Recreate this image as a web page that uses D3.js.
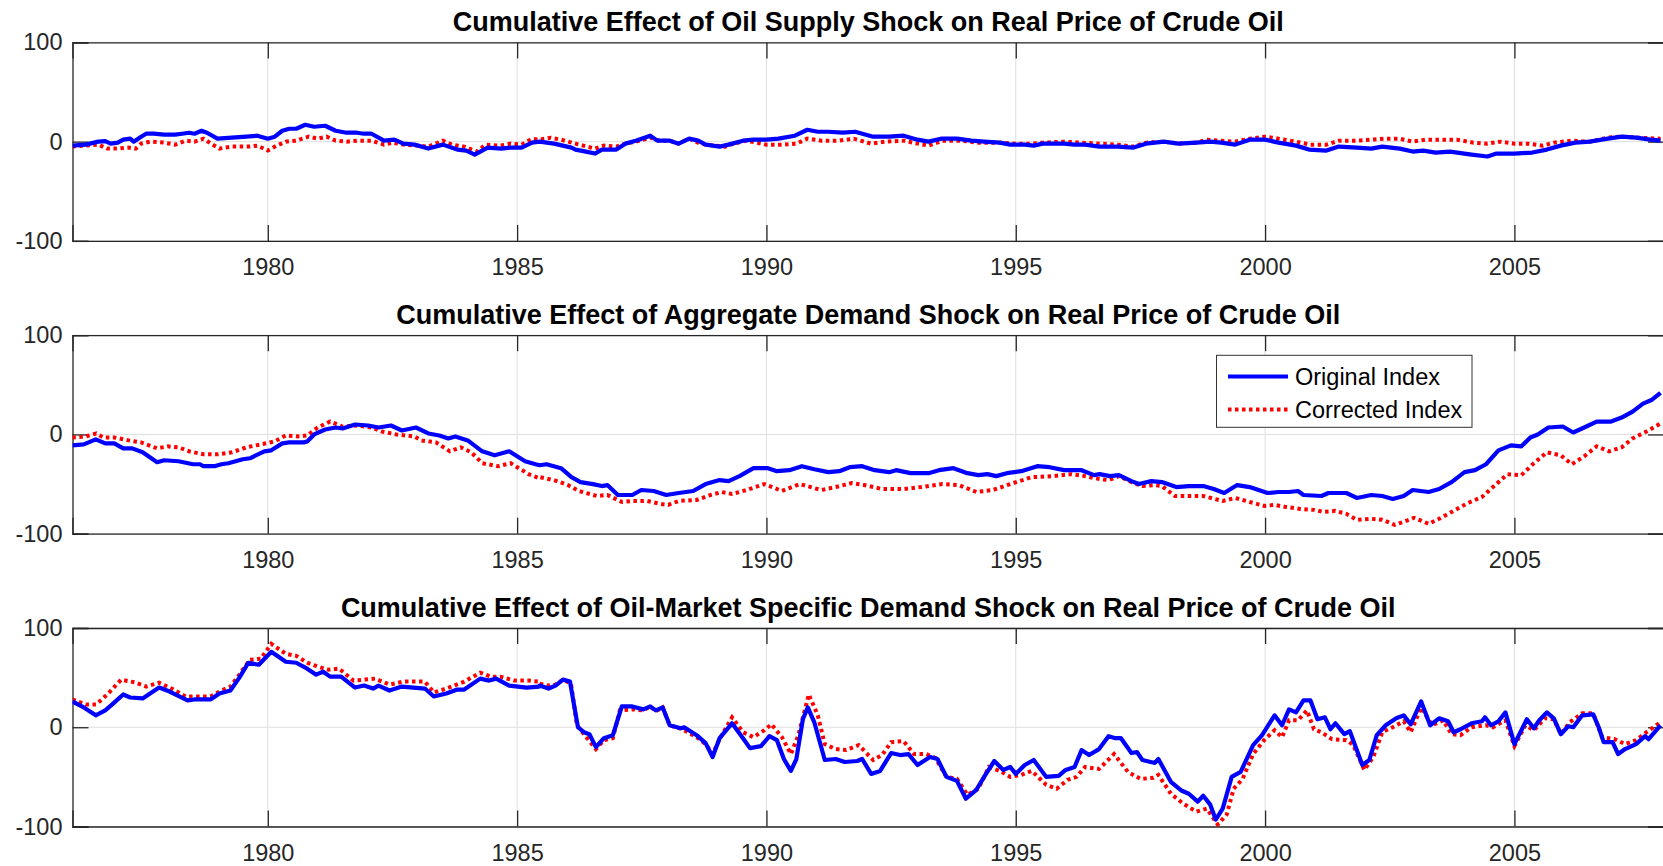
<!DOCTYPE html>
<html lang="en">
<head>
<meta charset="UTF-8">
<title>Cumulative Effects on Real Price of Crude Oil</title>
<script src="https://d3js.org/d3.v7.min.js"></script>
<style>
  body {
    margin: 0;
    background-color: #ffffff;
  }
  svg {
    display: block;
    font-family: "Liberation Sans", Arial, Helvetica, sans-serif;
  }
  .tick text {
    fill: #262626;
    font-size: 23.5px;
  }
  .title {
    font-size: 27px;
    font-weight: bold;
    fill: #000;
  }
  .legend text {
    font-size: 23.5px;
    fill: #000;
  }
</style>
</head>
<body>
<svg id="chart" width="1663" height="866"></svg>
<script>
// values: [decimal year, cumulative effect]

const supplyOriginal = [[1976.08,-4],[1976.35,-3],[1976.60,0],[1976.74,0.5],[1976.85,-2],[1976.99,-1],[1977.10,2],[1977.24,3],[1977.31,0],[1977.46,5],[1977.56,8],[1977.71,8],[1977.92,7],[1978.14,7],[1978.28,8],[1978.42,9],[1978.53,8],[1978.67,11],[1978.78,9],[1978.99,3],[1979.28,4],[1979.57,5],[1979.79,6],[1980.00,3],[1980.14,5],[1980.29,11],[1980.43,13],[1980.57,13],[1980.75,17],[1980.93,15],[1981.15,16],[1981.36,11],[1981.58,9],[1981.79,9],[1981.93,8],[1982.08,8],[1982.33,1],[1982.54,2],[1982.72,-2],[1982.94,-3],[1983.22,-7],[1983.51,-3],[1983.80,-8],[1983.98,-9],[1984.15,-13],[1984.41,-6],[1984.69,-7],[1984.87,-6],[1985.09,-6],[1985.30,-1],
  [1985.45,0],[1985.74,-2],[1986.09,-6],[1986.17,-8],[1986.38,-10],[1986.56,-12],[1986.70,-8],[1986.99,-8],[1987.17,-2],[1987.38,1],[1987.67,6],[1987.81,1],[1988.06,1],[1988.24,-2],[1988.45,3],[1988.63,1],[1988.78,-3],[1989.06,-5],[1989.24,-3],[1989.53,1],[1989.74,2],[1990.00,2],[1990.24,3],[1990.57,6],[1990.82,12],[1991.03,10],[1991.24,10],[1991.53,9],[1991.78,10],[1992.14,5],[1992.46,5],[1992.75,6],[1993.03,2],[1993.25,0],[1993.50,3],[1993.82,3],[1994.11,1],[1994.36,0],[1994.68,-1],[1994.89,-3],[1995.18,-3],[1995.36,-4],[1995.54,-2],[1995.97,-2],[1996.18,-3],[1996.39,-3],
  [1996.68,-5],[1997.04,-5],[1997.36,-6],[1997.61,-2],[1997.97,0],[1998.26,-2],[1998.62,-1],[1998.90,0],[1999.12,-1],[1999.40,-3],[1999.69,2],[2000.00,2],[2000.27,-1],[2000.62,-4],[2000.88,-8],[2001.23,-9],[2001.48,-5],[2001.84,-6],[2002.13,-7],[2002.35,-5],[2002.70,-7],[2002.96,-10],[2003.17,-9],[2003.42,-11],[2003.71,-10],[2004.14,-13],[2004.46,-15],[2004.64,-12],[2005.00,-12],[2005.36,-11],[2005.65,-8],[2005.93,-4],[2006.22,-1],[2006.51,0],[2006.87,3],[2007.15,5],[2007.44,4],[2007.73,2],[2007.93,1]];

const supplyCorrected = [[1976.08,-5],[1976.35,-4],[1976.60,-3],[1976.78,-7],[1976.99,-7],[1977.21,-6],[1977.35,-7],[1977.46,-2],[1977.64,0],[1977.92,-1],[1978.14,-3],[1978.35,1],[1978.53,0],[1978.71,3],[1978.89,-3],[1979.03,-7],[1979.28,-5],[1979.64,-5],[1979.79,-4],[1980.00,-9],[1980.18,-4],[1980.36,0],[1980.57,1],[1980.82,5],[1981.00,3],[1981.18,5],[1981.36,1],[1981.58,0],[1981.79,1],[1982.08,1],[1982.33,-3],[1982.51,-1],[1982.72,-3],[1983.01,-4],[1983.22,-5],[1983.51,1],[1983.69,-3],[1983.94,-5],[1984.19,-10],[1984.37,-3],[1984.66,-4],[1984.87,-2],[1985.09,-3],[1985.30,3],
  [1985.45,2],[1985.67,4],[1985.88,2],[1986.17,-2],[1986.56,-7],[1986.74,-4],[1986.99,-5],[1987.17,-2],[1987.38,0],[1987.67,4],[1987.85,1],[1988.06,1],[1988.24,-2],[1988.45,3],[1988.67,-2],[1988.96,-4],[1989.17,-5],[1989.35,-2],[1989.60,1],[1990.00,-3],[1990.31,-3],[1990.60,-2],[1990.82,3],[1991.10,1],[1991.46,1],[1991.75,3],[1992.10,-2],[1992.39,0],[1992.75,1],[1993.03,-2],[1993.25,-4],[1993.53,1],[1993.89,1],[1994.25,-1],[1994.68,-1],[1995.00,-2],[1995.32,-2],[1995.54,-1],[1995.97,0],[1996.32,-1],
  [1996.68,-2],[1997.04,-3],[1997.36,-5],[1997.61,-1],[1997.97,0],[1998.26,-2],[1998.62,-1],[1998.83,2],[1999.12,1],[1999.40,0],[1999.69,3],[2000.00,5],[2000.27,3],[2000.62,0],[2000.91,-3],[2001.23,-3],[2001.48,1],[2001.84,1],[2002.13,2],[2002.42,3],[2002.70,3],[2002.96,0],[2003.21,2],[2003.57,2],[2003.85,2],[2004.18,-1],[2004.46,-2],[2004.71,0],[2005.00,-2],[2005.29,-2],[2005.57,-4],[2005.79,-1],[2006.15,1],[2006.51,0],[2006.87,4],[2007.15,5],[2007.51,4],[2007.93,3]];

const demandOriginal = [[1976.08,-11],[1976.31,-10],[1976.55,-5],[1976.74,-9],[1976.92,-9],[1977.10,-14],[1977.28,-14],[1977.49,-18],[1977.78,-28],[1977.92,-26],[1978.21,-27],[1978.50,-30],[1978.64,-30],[1978.71,-32],[1978.93,-32],[1979.07,-30],[1979.21,-29],[1979.50,-25],[1979.64,-24],[1979.93,-17],[1980.07,-16],[1980.29,-9],[1980.43,-8],[1980.72,-8],[1980.79,-7],[1980.93,0],[1981.15,5],[1981.36,7],[1981.50,6],[1981.75,10],[1982.01,9],[1982.22,7],[1982.47,9],[1982.69,4],[1982.97,7],[1983.22,1],[1983.44,-1],[1983.62,-4],[1983.76,-2],[1984.01,-6],[1984.30,-17],[1984.55,-21],[1984.84,-17],[1985.16,-27],[1985.37,-30],
  [1985.45,-31],[1985.59,-30],[1985.88,-34],[1986.09,-43],[1986.27,-48],[1986.52,-50],[1986.70,-52],[1986.81,-51],[1987.02,-61],[1987.31,-61],[1987.49,-56],[1987.74,-57],[1987.99,-61],[1988.24,-59],[1988.53,-57],[1988.78,-50],[1989.06,-46],[1989.24,-47],[1989.46,-42],[1989.74,-34],[1990.03,-34],[1990.21,-37],[1990.46,-36],[1990.71,-32],[1990.96,-35],[1991.24,-38],[1991.46,-37],[1991.67,-33],[1991.92,-32],[1992.17,-36],[1992.46,-38],[1992.60,-36],[1992.89,-39],[1993.25,-39],[1993.46,-36],[1993.75,-34],[1994.03,-39],[1994.25,-41],[1994.43,-40],[1994.61,-42],[1994.82,-39],[1995.11,-37],[1995.43,-32],[1995.68,-33],[1995.97,-36],[1996.32,-36],[1996.57,-41],
  [1996.68,-40],[1996.89,-42],[1997.07,-41],[1997.32,-47],[1997.47,-50],[1997.72,-47],[1997.93,-48],[1998.22,-53],[1998.47,-52],[1998.76,-52],[1998.97,-55],[1999.18,-59],[1999.44,-51],[1999.69,-53],[2000.05,-59],[2000.27,-58],[2000.48,-58],[2000.66,-57],[2000.77,-61],[2001.13,-62],[2001.27,-59],[2001.63,-59],[2001.84,-64],[2002.13,-61],[2002.35,-62],[2002.56,-65],[2002.78,-62],[2002.96,-56],[2003.28,-58],[2003.49,-55],[2003.74,-48],[2004.00,-38],[2004.21,-36],[2004.43,-30],[2004.68,-16],[2004.93,-11],[2005.14,-12],[2005.32,-3],[2005.47,0],[2005.68,7],[2005.97,8],[2006.18,2],[2006.40,7],[2006.65,13],[2006.94,13],[2007.15,17],[2007.37,23],[2007.58,31],[2007.76,35],[2007.93,42]];

const demandCorrected = [[1976.08,-3],[1976.35,-2],[1976.56,1],[1976.70,-3],[1976.92,-3],[1977.21,-6],[1977.46,-8],[1977.78,-14],[1977.99,-12],[1978.21,-13],[1978.42,-17],[1978.71,-20],[1978.99,-20],[1979.28,-18],[1979.57,-13],[1979.86,-10],[1980.14,-7],[1980.36,-1],[1980.64,-2],[1980.79,-1],[1981.00,7],[1981.25,13],[1981.50,8],[1981.79,9],[1982.08,7],[1982.29,3],[1982.58,0],[1982.94,-2],[1983.08,-6],[1983.37,-8],[1983.65,-17],[1983.87,-13],[1984.08,-18],[1984.30,-29],[1984.62,-32],[1984.87,-29],[1985.23,-40],[1985.44,-44],
  [1985.45,-43],[1985.74,-46],[1986.02,-51],[1986.24,-57],[1986.60,-62],[1986.81,-61],[1987.10,-68],[1987.31,-67],[1987.60,-67],[1987.88,-70],[1988.03,-71],[1988.24,-67],[1988.60,-66],[1988.88,-61],[1989.10,-58],[1989.31,-60],[1989.60,-56],[1989.96,-50],[1990.31,-57],[1990.67,-50],[1991.10,-56],[1991.39,-53],[1991.71,-49],[1991.96,-51],[1992.32,-55],[1992.75,-55],[1993.10,-53],[1993.53,-50],[1993.86,-51],[1994.21,-58],[1994.54,-56],[1994.89,-50],[1995.32,-43],[1995.75,-42],[1996.11,-40],[1996.39,-42],
  [1996.68,-45],[1996.86,-46],[1997.07,-42],[1997.32,-48],[1997.54,-52],[1997.79,-51],[1997.93,-52],[1998.19,-62],[1998.54,-62],[1998.76,-62],[1999.15,-67],[1999.40,-64],[1999.62,-67],[1999.98,-72],[2000.19,-71],[2000.41,-73],[2000.70,-75],[2000.98,-76],[2001.16,-78],[2001.41,-77],[2001.63,-80],[2001.84,-86],[2002.13,-85],[2002.35,-86],[2002.60,-91],[2002.78,-88],[2002.99,-84],[2003.28,-90],[2003.49,-85],[2003.78,-77],[2004.07,-69],[2004.35,-63],[2004.57,-53],[2004.86,-40],[2005.14,-41],[2005.39,-29],[2005.65,-18],[2005.93,-21],[2006.15,-30],[2006.40,-22],[2006.65,-12],[2006.90,-17],[2007.15,-13],[2007.37,-4],[2007.65,3],[2007.93,11]];

const specificOriginal = [[1976.08,26],[1976.31,20],[1976.55,12],[1976.74,17],[1976.88,23],[1977.10,33],[1977.24,30],[1977.49,29],[1977.82,40],[1978.03,36],[1978.39,27],[1978.53,28],[1978.85,28],[1979.03,34],[1979.25,37],[1979.43,50],[1979.61,65],[1979.82,63],[1980.07,76],[1980.36,66],[1980.57,65],[1980.79,59],[1980.97,53],[1981.11,56],[1981.25,51],[1981.47,51],[1981.75,40],[1981.93,42],[1982.11,39],[1982.22,42],[1982.44,37],[1982.69,41],[1983.15,39],[1983.33,31],[1983.58,34],[1983.80,38],[1983.94,38],[1984.26,49],[1984.44,47],[1984.58,49],[1984.84,42],[1985.19,40],[1985.44,41],
  [1985.45,42],[1985.63,39],[1985.77,42],[1985.92,48],[1986.06,46],[1986.22,0],[1986.34,-5],[1986.45,-7],[1986.58,-20],[1986.74,-11],[1986.92,-8],[1987.10,21],[1987.31,21],[1987.53,18],[1987.67,21],[1987.78,17],[1987.92,20],[1988.06,2],[1988.28,-1],[1988.35,0],[1988.60,-8],[1988.78,-16],[1988.92,-30],[1989.06,-11],[1989.31,4],[1989.53,-11],[1989.67,-21],[1989.89,-19],[1990.06,-9],[1990.21,-13],[1990.35,-32],[1990.49,-44],[1990.60,-32],[1990.73,8],[1990.83,20],[1990.96,5],[1991.17,-33],[1991.39,-32],[1991.57,-35],[1991.82,-34],[1991.92,-32],[1992.10,-47],[1992.28,-44],[1992.50,-26],[1992.68,-28],[1992.85,-27],[1993.03,-38],[1993.28,-30],[1993.43,-32],[1993.61,-50],[1993.82,-54],[1994.00,-72],[1994.21,-63],[1994.39,-48],[1994.57,-34],[1994.75,-43],[1994.89,-40],[1995.00,-47],[1995.18,-38],[1995.36,-33],[1995.61,-50],[1995.86,-49],[1996.00,-43],[1996.18,-40],[1996.32,-23],[1996.47,-28],[1996.67,-22],
  [1996.86,-9],[1997.00,-11],[1997.11,-11],[1997.32,-26],[1997.43,-25],[1997.54,-33],[1997.79,-36],[1997.86,-32],[1998.11,-55],[1998.33,-64],[1998.47,-67],[1998.65,-75],[1998.76,-69],[1998.90,-78],[1999.01,-93],[1999.15,-82],[1999.33,-50],[1999.51,-45],[1999.76,-18],[1999.94,-8],[2000.19,12],[2000.34,2],[2000.48,18],[2000.62,15],[2000.77,27],[2000.91,27],[2001.05,8],[2001.20,10],[2001.31,-2],[2001.41,4],[2001.59,-7],[2001.70,-4],[2001.95,-38],[2002.09,-33],[2002.24,-8],[2002.42,2],[2002.63,9],[2002.78,12],[2002.92,3],[2003.13,26],[2003.31,2],[2003.49,9],[2003.67,6],[2003.78,-5],[2003.92,-2],[2004.14,4],[2004.35,6],[2004.41,10],[2004.53,2],[2004.68,6],[2004.82,15],[2005.00,-17],[2005.25,8],[2005.39,-1],[2005.50,7],[2005.65,15],[2005.79,9],[2005.93,-7],[2006.08,1],[2006.18,0],[2006.36,12],[2006.58,13],[2006.69,0],[2006.79,-15],[2006.97,-15],[2007.08,-27],[2007.22,-22],[2007.44,-17],[2007.62,-9],[2007.69,-12],[2007.93,2]];

const specificCorrected = [[1976.08,28],[1976.35,23],[1976.56,23],[1976.78,33],[1977.06,48],[1977.35,45],[1977.56,41],[1977.82,45],[1978.07,39],[1978.35,31],[1978.64,31],[1978.85,31],[1979.07,37],[1979.25,41],[1979.43,53],[1979.64,68],[1979.86,69],[1980.07,84],[1980.36,74],[1980.57,72],[1980.79,65],[1981.07,60],[1981.22,58],[1981.43,59],[1981.72,47],[1981.93,48],[1982.15,49],[1982.44,43],[1982.72,46],[1983.15,46],[1983.33,35],[1983.58,39],[1983.94,46],[1984.26,55],[1984.48,51],[1984.66,51],[1984.94,47],[1985.23,47],[1985.44,46],
  [1985.45,44],[1985.63,42],[1985.77,43],[1985.92,48],[1986.08,44],[1986.20,2],[1986.34,-7],[1986.58,-22],[1986.74,-13],[1986.92,-11],[1987.06,17],[1987.31,18],[1987.53,17],[1987.67,21],[1987.78,16],[1987.92,20],[1988.06,2],[1988.31,-2],[1988.60,-10],[1988.78,-17],[1988.92,-27],[1989.06,-12],[1989.31,10],[1989.53,-5],[1989.74,-10],[1989.96,-3],[1990.10,3],[1990.31,-10],[1990.49,-27],[1990.64,-8],[1990.85,33],[1991.03,12],[1991.17,-17],[1991.39,-22],[1991.60,-23],[1991.85,-18],[1992.14,-33],[1992.32,-28],[1992.50,-15],[1992.75,-14],[1992.96,-27],[1993.21,-27],[1993.39,-31],[1993.61,-50],[1993.82,-52],[1994.03,-68],[1994.25,-62],[1994.46,-40],[1994.68,-44],[1994.89,-50],[1995.11,-48],[1995.32,-44],[1995.61,-58],[1995.82,-62],[1996.04,-53],[1996.22,-50],[1996.39,-40],[1996.67,-42],
  [1996.97,-27],[1997.25,-45],[1997.50,-52],[1997.76,-51],[1997.86,-48],[1998.11,-67],[1998.36,-77],[1998.62,-85],[1998.83,-82],[1999.05,-98],[1999.23,-88],[1999.37,-62],[1999.55,-52],[1999.76,-27],[1999.98,-13],[2000.19,-3],[2000.34,-10],[2000.48,7],[2000.66,7],[2000.84,17],[2000.98,-2],[2001.13,-5],[2001.34,-12],[2001.63,-13],[2001.77,-18],[2001.99,-43],[2002.17,-30],[2002.35,-5],[2002.56,0],[2002.78,6],[2002.92,-5],[2003.13,20],[2003.35,2],[2003.57,7],[2003.74,-7],[2003.92,-8],[2004.14,0],[2004.43,2],[2004.57,0],[2004.82,7],[2005.00,-19],[2005.22,2],[2005.39,-3],[2005.61,9],[2005.79,8],[2005.93,-7],[2006.11,5],[2006.36,14],[2006.58,14],[2006.76,-10],[2007.01,-12],[2007.22,-17],[2007.44,-13],[2007.65,-5],[2007.93,5]];

const panelTitles = [
  "Cumulative Effect of Oil Supply Shock on Real Price of Crude Oil",
  "Cumulative Effect of Aggregate Demand Shock on Real Price of Crude Oil",
  "Cumulative Effect of Oil-Market Specific Demand Shock on Real Price of Crude Oil"
];
const seriesNames = ["Original Index", "Corrected Index"];
const xTicks = [1980, 1985, 1990, 1995, 2000, 2005];
const yTicks = [-100, 0, 100];
const xDomain = [1976 + 1 / 12, 2008];
const yDomain = [-100, 100];

const panels = [
  { title: panelTitles[0], original: supplyOriginal, corrected: supplyCorrected, top: 42.4, legend: false },
  { title: panelTitles[1], original: demandOriginal, corrected: demandCorrected, top: 335.2, legend: true },
  { title: panelTitles[2], original: specificOriginal, corrected: specificCorrected, top: 628, legend: false }
];

const svg = d3.select("#chart"),
  left = 72.5,
  right = 1664,   // right edge of the box falls just outside the picture
  plotH = 198.5,
  tickLen = 16;

const x = d3.scaleLinear().domain(xDomain).range([left, right]);

svg.append("defs").append("clipPath").attr("id", "clip")
  .append("rect")
  .attr("x", left).attr("y", 0)
  .attr("width", right - left).attr("height", plotH);

panels.forEach(function(p) {
  const g = svg.append("g").attr("transform", `translate(0,${p.top})`);
  const y = d3.scaleLinear().domain(yDomain).range([plotH, 0]);

  // grid lines
  g.append("g").selectAll("line")
    .data(xTicks).join("line")
    .attr("x1", d => x(d)).attr("x2", d => x(d))
    .attr("y1", 0).attr("y2", plotH)
    .attr("stroke", "#dfdfdf").attr("stroke-width", 1);
  g.append("g").selectAll("line")
    .data(yTicks).join("line")
    .attr("x1", left).attr("x2", right)
    .attr("y1", d => y(d)).attr("y2", d => y(d))
    .attr("stroke", "#dfdfdf").attr("stroke-width", 1);

  // axes, ticks pointing inward
  const xb = g.append("g").attr("transform", `translate(0,${plotH})`)
    .call(d3.axisBottom(x).tickValues(xTicks).tickFormat(d => String(d)).tickSize(-tickLen).tickPadding(17.5));
  const xt = g.append("g")
    .call(d3.axisTop(x).tickValues(xTicks).tickFormat("").tickSize(-tickLen));
  const yl = g.append("g").attr("transform", `translate(${left},0)`)
    .call(d3.axisLeft(y).tickValues(yTicks).tickFormat(d => String(d)).tickSize(-tickLen).tickPadding(10));
  const yr = g.append("g").attr("transform", `translate(${right},0)`)
    .call(d3.axisRight(y).tickValues(yTicks).tickFormat("").tickSize(-tickLen));

  [xb, xt, yl, yr].forEach(a => {
    a.select(".domain").attr("stroke", "#262626").attr("stroke-width", 1.3);
    a.selectAll(".tick line").attr("stroke", "#262626").attr("stroke-width", 1.3);
    a.attr("font-family", null).attr("font-size", null);
  });

  // data lines
  const line = d3.line().x(d => x(d[0])).y(d => y(d[1]));
  const lines = g.append("g").attr("clip-path", "url(#clip)");
  lines.append("path")
    .datum(p.corrected)
    .attr("d", line)
    .attr("fill", "none")
    .attr("stroke", "#ff0000")
    .attr("stroke-width", 4)
    .attr("stroke-dasharray", "3.5,3.5");
  lines.append("path")
    .datum(p.original)
    .attr("d", line)
    .attr("fill", "none")
    .attr("stroke", "#0000ff")
    .attr("stroke-width", 4.2)
    .attr("stroke-linejoin", "round");

  // title
  g.append("text")
    .attr("class", "title")
    .attr("x", (left + right) / 2)
    .attr("y", -11.5)
    .attr("text-anchor", "middle")
    .text(p.title);

  if (p.legend) {
    const lg = g.append("g").attr("class", "legend");
    lg.append("rect")
      .attr("x", 1216.5).attr("y", 355.3 - p.top)
      .attr("width", 255.5).attr("height", 72)
      .attr("fill", "#fff").attr("stroke", "#333").attr("stroke-width", 1);
    const rows = [
      { name: seriesNames[0], color: "#0000ff", dash: null, cy: 376.5 - p.top },
      { name: seriesNames[1], color: "#ff0000", dash: "3.5,3.5", cy: 409.4 - p.top }
    ];
    rows.forEach(r => {
      lg.append("line")
        .attr("x1", 1228).attr("x2", 1288)
        .attr("y1", r.cy).attr("y2", r.cy)
        .attr("stroke", r.color).attr("stroke-width", 4)
        .attr("stroke-dasharray", r.dash);
      lg.append("text")
        .attr("x", 1295).attr("y", r.cy)
        .attr("dy", "0.35em")
        .text(r.name);
    });
  }
});
</script>
</body>
</html>
